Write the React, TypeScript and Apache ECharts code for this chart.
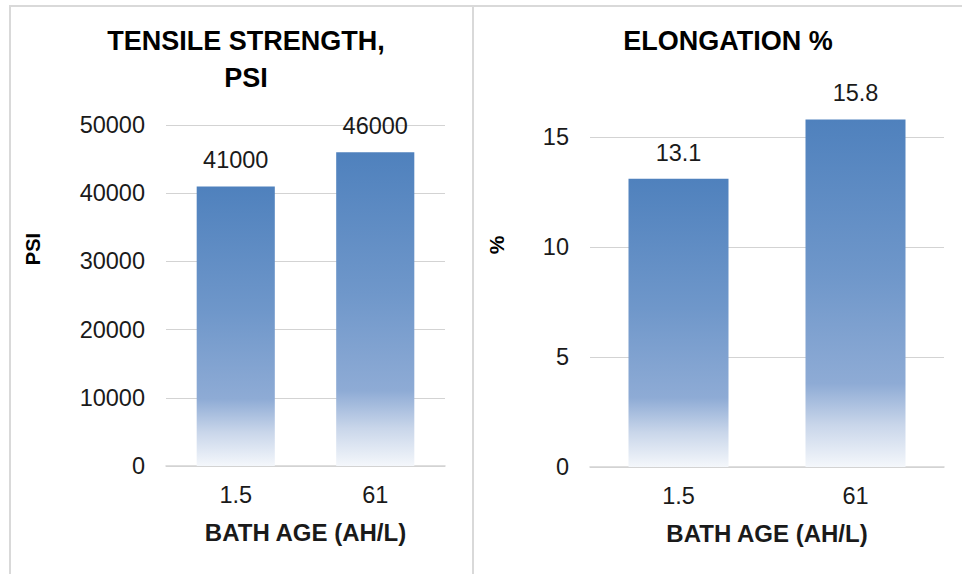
import React, { useEffect, useRef } from "react";
import * as echarts from "echarts";

const categories = ["1.5", "61"];
const tensileValues = [41000, 46000];
const elongationValues = [13.1, 15.8];
const tensileTitle = "TENSILE STRENGTH,\nPSI";
const elongationTitle = "ELONGATION %";
const xAxisName = "BATH AGE (AH/L)";
const tensileAxisName = "PSI";
const elongationAxisName = "%";

const FONT = "'Liberation Sans', Arial, sans-serif";
const TEXT = "#1a1a1a";
const GRIDC = "#d3d3d3";
const BORDER = "#d9d9d9";

const barGradient = () =>
  new echarts.graphic.LinearGradient(0, 0, 0, 1, [
    { offset: 0, color: "#4f81bd" },
    { offset: 0.45, color: "#6f97ca" },
    { offset: 0.76, color: "#8eabd5" },
    { offset: 0.88, color: "#c9d6ea" },
    { offset: 1, color: "#f4f7fb" },
  ]);

export default function App() {
  const ref = useRef<HTMLDivElement>(null);
  useEffect(() => {
    document.body.style.margin = "0";
    if (!ref.current) return;
    const chart = echarts.init(ref.current, null, { renderer: "svg" });
    const axisLabel = { color: TEXT, fontSize: 23.5, fontFamily: FONT };
    const xAxisCommon = (gridIndex: number) => ({
      type: "category" as const,
      gridIndex,
      data: categories,
      axisTick: { show: false },
      axisLine: { show: true, lineStyle: { color: GRIDC, width: 1.5 } },
      axisLabel: { ...axisLabel, margin: 17 },
      name: xAxisName,
      nameLocation: "middle" as const,
      nameGap: 54,
      nameTextStyle: { color: TEXT, fontSize: 24, fontWeight: "bold" as const, fontFamily: FONT },
    });
    const labelStyle = {
      show: true,
      position: "top" as const,
      distance: 14,
      color: TEXT,
      fontSize: 23.5,
      fontFamily: FONT,
    };
    const plain = (v: number) => String(v);
    chart.setOption({
      animation: false,
      backgroundColor: "#ffffff",
      title: [
        {
          text: tensileTitle,
          left: 241,
          top: 17,
          textAlign: "center",
          textStyle: { color: "#000", fontSize: 27, fontWeight: "bold", fontFamily: FONT, lineHeight: 37 },
        },
        {
          text: elongationTitle,
          left: 723,
          top: 17,
          textAlign: "center",
          textStyle: { color: "#000", fontSize: 27, fontWeight: "bold", fontFamily: FONT, lineHeight: 37 },
        },
      ],
      grid: [
        { left: 166, width: 279, top: 125, height: 341 },
        { left: 590, width: 354, top: 115, height: 352 },
      ],
      xAxis: [xAxisCommon(0), xAxisCommon(1)],
      yAxis: [
        {
          type: "value",
          gridIndex: 0,
          min: 0,
          max: 50000,
          interval: 10000,
          axisLine: { show: false },
          axisTick: { show: false },
          axisLabel: { ...axisLabel, margin: 21, formatter: plain },
          splitLine: { show: true, lineStyle: { color: GRIDC, width: 1 } },
        },
        {
          type: "value",
          gridIndex: 1,
          min: 0,
          max: 16,
          interval: 5,
          axisLine: { show: false },
          axisTick: { show: false },
          axisLabel: { ...axisLabel, margin: 21, showMaxLabel: false, formatter: plain },
          splitLine: { show: true, showMaxLine: false, lineStyle: { color: GRIDC, width: 1 } },
        },
      ],
      series: [
        {
          type: "bar",
          xAxisIndex: 0,
          yAxisIndex: 0,
          data: tensileValues,
          barWidth: "56%",
          itemStyle: { color: barGradient() },
          label: labelStyle,
        },
        {
          type: "bar",
          xAxisIndex: 1,
          yAxisIndex: 1,
          data: elongationValues,
          barWidth: "56.5%",
          itemStyle: { color: barGradient() },
          label: labelStyle,
        },
      ],
      graphic: [
        {
          type: "polyline",
          shape: { points: [[10, 580], [10, 6], [970, 6]] },
          style: { stroke: BORDER, lineWidth: 2, fill: "none" },
          silent: true,
        },
        {
          type: "line",
          shape: { x1: 473, y1: 6, x2: 473, y2: 580 },
          style: { stroke: BORDER, lineWidth: 2 },
          silent: true,
        },
        {
          type: "text",
          x: 33,
          y: 249,
          rotation: Math.PI / 2,
          style: {
            text: tensileAxisName,
            fill: "#000",
            font: `bold 20px ${FONT}`,
            align: "center",
            verticalAlign: "middle",
          },
        },
        {
          type: "text",
          x: 496,
          y: 245,
          rotation: Math.PI / 2,
          style: {
            text: elongationAxisName,
            fill: "#000",
            font: `bold 21px ${FONT}`,
            align: "center",
            verticalAlign: "middle",
          },
        },
      ],
    });
    return () => chart.dispose();
  }, []);
  return <div ref={ref} style={{ width: 962, height: 574 }} />;
}
